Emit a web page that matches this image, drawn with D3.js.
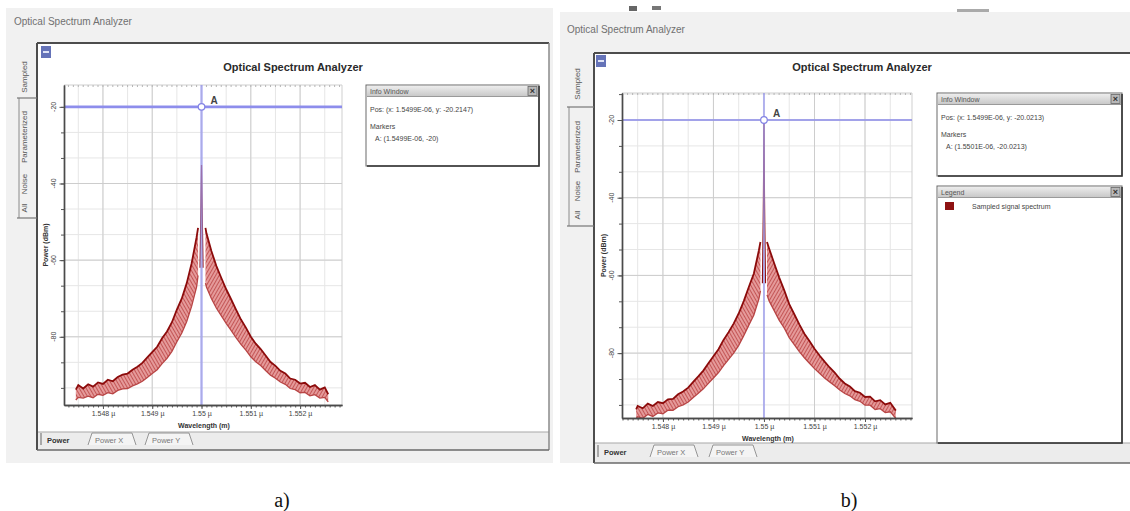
<!DOCTYPE html>
<html><head><meta charset="utf-8">
<script src="https://cdn.jsdelivr.net/npm/d3@7/dist/d3.min.js"></script>
<style>
html,body{margin:0;padding:0;background:#fff;}
svg{display:block;font-family:"Liberation Sans",Arial,sans-serif;}
</style></head>
<body>
<svg id="chart" width="1130" height="511"></svg>
<script>
// ---------------- DATA ----------------
const xTickValues = [1.548, 1.549, 1.55, 1.551, 1.552];
const xTickLabels = ["1.548 µ", "1.549 µ", "1.55 µ", "1.551 µ", "1.552 µ"];
const yTickValues = [-20, -40, -60, -80];
const yTickLabels = ["-20", "-40", "-60", "-80"];
const sideTabs = ["Sampled", "Parameterized", "Noise", "All"];
const bottomTabs = ["Power", "Power X", "Power Y"];

// panel a) – spectrum envelopes (wavelength in µm, power in dBm)
const wlLeftA = [1.54745,1.5475,1.5476,1.5477,1.5478,1.5479,1.548,1.5481,1.5482,1.5483,1.5484,1.5485,1.5486,1.5487,1.5488,1.5489,1.549,1.5491,1.5492,1.5493,1.5494,1.5495,1.5496,1.5497,1.5498,1.5499,1.54993];
const upperLeftA = [-93.8,-92.6,-93.5,-92.4,-93.0,-91.9,-92.3,-91.2,-91.6,-90.5,-89.9,-89.6,-88.6,-87.8,-86.8,-85.4,-84.0,-82.6,-80.4,-78.6,-76.2,-72.9,-70.0,-66.0,-60.8,-54.0,-51.6];
const lowerLeftA = [-96.5,-95.8,-96.0,-95.5,-95.9,-95.0,-95.3,-94.6,-94.9,-94.0,-93.6,-93.5,-92.8,-92.3,-91.6,-90.6,-89.6,-88.6,-87.0,-85.6,-83.8,-81.3,-79.0,-76.0,-72.0,-67.0,-64.0];
const wlRightA = [1.55008,1.5501,1.5502,1.5503,1.5504,1.5505,1.5506,1.5507,1.5508,1.5509,1.551,1.5511,1.5512,1.5513,1.5514,1.5515,1.5516,1.5517,1.5518,1.5519,1.552,1.5521,1.5522,1.5523,1.5524,1.5525,1.55257];
const upperRightA = [-51.6,-53.0,-57.6,-61.5,-64.6,-67.6,-70.2,-72.9,-75.5,-77.6,-80.0,-81.8,-83.2,-84.9,-86.6,-87.6,-88.9,-89.6,-90.9,-91.2,-92.2,-92.0,-93.1,-92.6,-93.8,-93.2,-95.0];
const lowerRightA = [-66.0,-67.0,-70.0,-72.5,-74.5,-76.5,-78.3,-80.2,-82.0,-83.5,-85.2,-86.5,-87.5,-88.8,-90.0,-90.8,-91.8,-92.4,-93.5,-93.8,-94.6,-94.5,-95.4,-95.1,-96.0,-95.8,-97.0];
const spikeWlA = [1.54997,1.54999,1.55,1.55001,1.55003];
const spikeA = [-62,-44,-35.2,-44,-62];
const markerA = [1.55, -20];
const infoA = ["Pos:  (x: 1.5499E-06, y: -20.2147)", "Markers", "A: (1.5499E-06, -20)"];

// panel b)
const wlLeftB = [1.54747,1.5475,1.5476,1.5477,1.5478,1.5479,1.548,1.5481,1.5482,1.5483,1.5484,1.5485,1.5486,1.5487,1.5488,1.5489,1.549,1.5491,1.5492,1.5493,1.5494,1.5495,1.5496,1.5497,1.5498,1.5499,1.54993];
const upperLeftB = [-94.5,-93.6,-94.2,-93.0,-93.6,-92.6,-92.9,-91.9,-91.8,-90.6,-89.9,-88.9,-87.4,-86.0,-84.5,-82.6,-80.8,-79.0,-76.6,-74.6,-72.4,-69.8,-66.6,-63.0,-59.5,-53.5,-51.4];
const lowerLeftB = [-97.0,-96.4,-96.8,-95.8,-96.3,-95.4,-95.6,-94.7,-94.7,-93.8,-93.3,-92.6,-91.4,-90.3,-89.2,-87.8,-86.4,-85.0,-83.2,-81.6,-80.0,-78.0,-75.5,-72.8,-70.2,-66.0,-64.0];
const wlRightB = [1.55006,1.5501,1.5502,1.5503,1.5504,1.5505,1.5506,1.5507,1.5508,1.5509,1.551,1.5511,1.5512,1.5513,1.5514,1.5515,1.5516,1.5517,1.5518,1.5519,1.552,1.5521,1.5522,1.5523,1.5524,1.5525,1.55261];
const upperRightB = [-51.4,-53.0,-56.8,-60.5,-63.8,-67.4,-70.0,-72.6,-75.0,-76.9,-78.9,-80.6,-82.2,-83.7,-85.0,-86.6,-87.8,-88.6,-89.8,-90.2,-91.3,-91.2,-92.4,-92.1,-93.2,-92.8,-94.8];
const lowerRightB = [-65.0,-66.5,-69.0,-71.5,-73.5,-76.0,-77.8,-79.6,-81.2,-82.6,-84.0,-85.2,-86.4,-87.4,-88.4,-89.5,-90.4,-91.0,-92.0,-92.4,-93.4,-93.4,-94.5,-94.3,-95.3,-95.1,-96.8];
const spikeWlB = [1.54997,1.549985,1.54999,1.55,1.55001,1.550015,1.55003];
const spikeB = [-62,-46,-40,-20.3,-40,-46,-62];
const markerB = [1.55, -20];
const infoB = ["Pos:  (x: 1.5499E-06, y: -20.0213)", "Markers", "A: (1.5501E-06, -20.0213)"];
const legendB = ["Sampled signal spectrum"];

// ---------------- DRAWING ----------------
const svg = d3.select("#chart");
const defs = svg.append("defs");
function makeHatch(id, angle) {
  const p = defs.append("pattern").attr("id", id).attr("patternUnits", "userSpaceOnUse")
    .attr("width", 3).attr("height", 3).attr("patternTransform", `rotate(${angle})`);
  p.append("rect").attr("width", 3).attr("height", 3).attr("fill", "#e59a9a");
  p.append("line").attr("x1", 0.5).attr("y1", 0).attr("x2", 0.5).attr("y2", 3)
    .attr("stroke", "#b53c3c").attr("stroke-width", 0.9).attr("stroke-opacity", 0.8);
}
makeHatch("hatchL", -30);
makeHatch("hatchR", 30);
const grad = defs.append("linearGradient").attr("id", "tbar").attr("x1", 0).attr("x2", 0).attr("y1", 0).attr("y2", 1);
grad.append("stop").attr("offset", "0%").attr("stop-color", "#ececec");
grad.append("stop").attr("offset", "100%").attr("stop-color", "#c9c9c9");

function boxWithTitle(g, b, title) {
  g.append("rect").attr("x", b.x).attr("y", b.y).attr("width", b.w).attr("height", b.h)
    .attr("fill", "#fff").attr("stroke", "#6a6a6a").attr("stroke-width", 1);
  g.append("rect").attr("x", b.x + 1).attr("y", b.y + 1).attr("width", b.w - 2).attr("height", 10)
    .attr("fill", "url(#tbar)");
  g.append("line").attr("x1", b.x + 1).attr("x2", b.x + b.w - 1).attr("y1", b.y + 11.5).attr("y2", b.y + 11.5)
    .attr("stroke", "#9a9a9a");
  g.append("text").attr("x", b.x + 4).attr("y", b.y + 9).attr("font-size", 7).attr("fill", "#555").text(title);
  g.append("rect").attr("x", b.x + b.w - 11).attr("y", b.y + 1.5).attr("width", 9).attr("height", 9)
    .attr("fill", "#b8b8b8").attr("stroke", "#666").attr("stroke-width", 0.8);
  g.append("text").attr("x", b.x + b.w - 6.5).attr("y", b.y + 9.3).attr("text-anchor", "middle")
    .attr("font-size", 9).attr("font-weight", "bold").attr("fill", "#333").text("×");
  g.append("path").attr("d", `M${b.x + 1},${b.y + b.h}H${b.x + b.w}V${b.y + 1}`)
    .attr("fill", "none").attr("stroke", "#333").attr("stroke-width", 1.6);
}

function drawPanel(cfg) {
  const g = svg.append("g");
  const f = cfg.frame;
  g.append("rect").attr("x", cfg.bg[0]).attr("y", cfg.bg[1]).attr("width", cfg.bg[2]).attr("height", cfg.bg[3]).attr("fill", "#f1f1f1");
  g.append("text").attr("x", cfg.winTitle[0]).attr("y", cfg.winTitle[1]).attr("font-size", 10)
    .attr("fill", "#707070").text("Optical Spectrum Analyzer");
  g.append("rect").attr("x", f.x).attr("y", f.y).attr("width", f.x2 - f.x).attr("height", f.y2 - f.y).attr("fill", "#fff");
  g.append("rect").attr("x", f.x).attr("y", f.whiteBottom).attr("width", f.x2 - f.x).attr("height", f.y2 - f.whiteBottom).attr("fill", "#ececec");
  g.append("line").attr("x1", f.x).attr("x2", f.x2).attr("y1", f.whiteBottom).attr("y2", f.whiteBottom).attr("stroke", "#a8a8a8").attr("stroke-width", 1.2);
  g.append("line").attr("x1", f.x).attr("x2", f.x2).attr("y1", f.y).attr("y2", f.y).attr("stroke", "#4d4d4d").attr("stroke-width", 2);
  g.append("line").attr("x1", f.x).attr("x2", f.x).attr("y1", f.y).attr("y2", f.y2).attr("stroke", "#4d4d4d").attr("stroke-width", 2);
  if (f.rightBorder) g.append("line").attr("x1", f.x2).attr("x2", f.x2).attr("y1", f.y).attr("y2", f.y2).attr("stroke", "#8a8a8a").attr("stroke-width", 1.5);
  g.append("line").attr("x1", f.x).attr("x2", f.x2).attr("y1", f.y2).attr("y2", f.y2).attr("stroke", "#6a6a6a").attr("stroke-width", 1.5);
  g.append("rect").attr("x", cfg.icon[0]).attr("y", cfg.icon[1]).attr("width", 10).attr("height", 12).attr("fill", "#6573b8");
  g.append("rect").attr("x", cfg.icon[0] + 2).attr("y", cfg.icon[1] + 5).attr("width", 6).attr("height", 2).attr("fill", "#dfe3f5");
  const st = cfg.side;
  g.append("line").attr("x1", st.lineX).attr("x2", st.lineX).attr("y1", st.seps[0]).attr("y2", st.seps[1]).attr("stroke", "#8a8a8a");
  st.seps.forEach(sy => g.append("line").attr("x1", st.lineX - 2).attr("x2", f.x).attr("y1", sy).attr("y2", sy).attr("stroke", "#777").attr("stroke-width", 1.2));
  sideTabs.forEach((t, i) => g.append("text").attr("transform", `translate(${st.x},${st.ys[i]}) rotate(-90)`)
    .attr("text-anchor", "middle").attr("font-size", 8).attr("fill", "#555").text(t));
  const bt = cfg.btabs;
  g.append("line").attr("x1", f.x + 4).attr("x2", f.x + 4).attr("y1", bt.y - 7).attr("y2", bt.y + 5).attr("stroke", "#666");
  bottomTabs.forEach((t, i) => {
    const tx = bt.xs[i];
    if (i > 0) {
      const w = bt.ws[i];
      g.append("path").attr("d", `M${tx - 7},${bt.y + 5}L${tx - 3},${bt.y - 7}H${tx + w + 3}L${tx + w + 7},${bt.y + 5}`)
        .attr("fill", "#f4f4f4").attr("stroke", "#8a8a8a").attr("stroke-width", 0.9);
    }
    g.append("text").attr("x", tx).attr("y", bt.y + 2.5).attr("font-size", 7.5)
      .attr("font-weight", i === 0 ? "bold" : "normal").attr("fill", i === 0 ? "#333" : "#777").text(t);
  });
  g.append("text").attr("x", cfg.title[0]).attr("y", cfg.title[1]).attr("text-anchor", "middle")
    .attr("font-size", 11).attr("font-weight", "bold").attr("fill", "#2a2a2a").text("Optical Spectrum Analyzer");

  // ---------- plot ----------
  const p = cfg.plot;
  const x = d3.scaleLinear().domain(cfg.xDomain).range([p.x0, p.x1]);
  const y = d3.scaleLinear().domain(cfg.yDomain).range([p.y1, p.y0]);
  const clipId = "clip" + cfg.id;
  defs.append("clipPath").attr("id", clipId).append("rect").attr("x", p.x0).attr("y", p.y0).attr("width", p.x1 - p.x0).attr("height", p.y1 - p.y0);

  const inX = v => v >= cfg.xDomain[0] && v <= cfg.xDomain[1];
  const inY = v => v >= cfg.yDomain[0] && v <= cfg.yDomain[1];
  const xMinor = d3.range(1.5470, 1.5531, 0.0005).filter(inX);
  const xFine = d3.range(1.5472, 1.5530, 0.0001).filter(inX);
  const yMinor = d3.range(-8, 14).map(k => -20 - k * 20 / 3).filter(inY);
  const grid = g.append("g");
  xMinor.forEach(v => grid.append("line").attr("x1", x(v)).attr("x2", x(v)).attr("y1", p.y0).attr("y2", p.y1).attr("stroke", "#e6e6e6").attr("stroke-width", 1));
  yMinor.forEach(v => grid.append("line").attr("x1", p.x0).attr("x2", p.x1).attr("y1", y(v)).attr("y2", y(v)).attr("stroke", "#e6e6e6").attr("stroke-width", 1));
  xTickValues.forEach(v => grid.append("line").attr("x1", x(v)).attr("x2", x(v)).attr("y1", p.y0).attr("y2", p.y1).attr("stroke", "#cdcdcd").attr("stroke-width", 1));
  yTickValues.forEach(v => grid.append("line").attr("x1", p.x0).attr("x2", p.x1).attr("y1", y(v)).attr("y2", y(v)).attr("stroke", "#cdcdcd").attr("stroke-width", 1));
  g.append("line").attr("x1", p.x0).attr("x2", p.x1).attr("y1", p.y0).attr("y2", p.y0).attr("stroke", "#cfcfcf");
  g.append("line").attr("x1", p.x1).attr("x2", p.x1).attr("y1", p.y0).attr("y2", p.y1).attr("stroke", "#cfcfcf");
  xFine.forEach(v => g.append("line").attr("x1", x(v)).attr("x2", x(v)).attr("y1", p.y0).attr("y2", p.y0 + 2).attr("stroke", "#b5b5b5"));

  // spectrum
  const plotG = g.append("g").attr("clip-path", `url(#${clipId})`);
  const area = d3.area().x(d => x(d.w)).y0(d => y(d.lo)).y1(d => y(d.hi));
  const lineHi = d3.line().x(d => x(d.w)).y(d => y(d.hi));
  const lineLo = d3.line().x(d => x(d.w)).y(d => y(d.lo));
  [[cfg.left, "hatchL"], [cfg.right, "hatchR"]].forEach(([s, pat]) => {
    const data = s.wl.map((w, i) => ({ w, hi: s.hi[i], lo: s.lo[i] }));
    plotG.append("path").datum(data).attr("d", area).attr("fill", `url(#${pat})`);
    plotG.append("path").datum(data).attr("d", lineLo).attr("fill", "none").attr("stroke", "#b84545").attr("stroke-width", 1.3);
    plotG.append("path").datum(data).attr("d", lineHi).attr("fill", "none").attr("stroke", "#8c0b0b").attr("stroke-width", 1.8);
  });
  const sp = cfg.spike.wl.map((w, i) => ({ w, v: cfg.spike.v[i] }));
  plotG.append("path").datum(sp).attr("d", d3.line().x(d => x(d.w)).y(d => y(d.v)))
    .attr("fill", "none").attr("stroke", "#8f0d0d").attr("stroke-width", 1.2);

  // marker lines
  const mx = x(cfg.marker[0]), my = y(cfg.marker[1]);
  plotG.append("line").attr("x1", mx).attr("x2", mx).attr("y1", p.y0).attr("y2", p.y1)
    .attr("stroke", "#9d9df2").attr("stroke-opacity", 0.7).attr("stroke-width", cfg.mv);
  plotG.append("line").attr("x1", p.x0).attr("x2", p.x1).attr("y1", my).attr("y2", my)
    .attr("stroke", "#8989ec").attr("stroke-opacity", 0.95).attr("stroke-width", cfg.mh);
  g.append("circle").attr("cx", mx).attr("cy", my).attr("r", 3.3).attr("fill", "#fff").attr("stroke", "#8282e4").attr("stroke-width", 1.2);
  g.append("text").attr("x", mx + 9).attr("y", my - 3).attr("font-size", 10).attr("font-weight", "bold").attr("fill", "#444").text("A");

  // axes
  const xAxisMinor = d3.axisBottom(x).tickValues(xFine).tickSize(2.5).tickSizeOuter(0).tickFormat("");
  const xAxisMajor = d3.axisBottom(x).tickValues(xTickValues).tickSize(4).tickSizeOuter(0).tickFormat((d, i) => xTickLabels[i]);
  const gxm = g.append("g").attr("transform", `translate(0,${p.y1})`).call(xAxisMinor);
  const gx = g.append("g").attr("transform", `translate(0,${p.y1})`).call(xAxisMajor);
  [gxm, gx].forEach(a => { a.select(".domain").attr("stroke", "#4a4a4a").attr("stroke-width", 1.4); a.selectAll(".tick line").attr("stroke", "#555"); });
  gx.selectAll(".tick text").attr("font-size", 7).attr("fill", "#444").attr("font-family", "Liberation Sans, Arial").attr("y", 6.5);
  g.append("text").attr("x", (p.x0 + p.x1) / 2 + 1).attr("y", p.y1 + 23).attr("text-anchor", "middle")
    .attr("font-size", 7).attr("font-weight", "bold").attr("fill", "#333").text("Wavelength (m)");

  const yAxisMinor = d3.axisLeft(y).tickValues(yMinor).tickSize(3).tickSizeOuter(0).tickFormat("");
  const yAxisMajor = d3.axisLeft(y).tickValues(yTickValues).tickSize(4.5).tickSizeOuter(0).tickFormat("");
  const gym = g.append("g").attr("transform", `translate(${p.x0},0)`).call(yAxisMinor);
  const gy = g.append("g").attr("transform", `translate(${p.x0},0)`).call(yAxisMajor);
  [gym, gy].forEach(a => { a.select(".domain").attr("stroke", "#4a4a4a").attr("stroke-width", 1.4); a.selectAll(".tick line").attr("stroke", "#555"); });
  yTickValues.forEach((v, i) => g.append("text").attr("transform", `translate(${p.x0 - 8},${y(v)}) rotate(-90)`)
    .attr("text-anchor", "middle").attr("font-size", 7).attr("fill", "#444").text(yTickLabels[i]));
  g.append("text").attr("transform", `translate(${p.x0 - 16},${(p.y0 + p.y1) / 2}) rotate(-90)`)
    .attr("text-anchor", "middle").attr("font-size", 7).attr("font-weight", "bold").attr("fill", "#333").text("Power (dBm)");

  boxWithTitle(g, cfg.info, "Info Window");
  const ib = cfg.info;
  g.append("text").attr("x", ib.x + 4).attr("y", ib.y + 27).attr("font-size", 7).attr("fill", "#444").text(cfg.infoText[0]);
  g.append("text").attr("x", ib.x + 4).attr("y", ib.y + 44).attr("font-size", 7).attr("fill", "#444").text(cfg.infoText[1]);
  g.append("text").attr("x", ib.x + 9).attr("y", ib.y + 56).attr("font-size", 7).attr("fill", "#444").text(cfg.infoText[2]);

  if (cfg.legend) {
    const lb = cfg.legend;
    boxWithTitle(g, lb, "Legend");
    g.append("rect").attr("x", lb.x + 8).attr("y", lb.y + 16).attr("width", 9).attr("height", 8).attr("fill", "#8e1212");
    g.append("text").attr("x", lb.x + 35).attr("y", lb.y + 23).attr("font-size", 7).attr("fill", "#444").text(legendB[0]);
  }

  g.append("text").attr("x", cfg.label[1]).attr("y", 507).attr("text-anchor", "middle")
    .attr("font-family", "Liberation Serif, Times New Roman, serif").attr("font-size", 20).attr("fill", "#111").text(cfg.label[0]);
}

drawPanel({
  id: "A", bg: [6, 8, 547, 455], winTitle: [14, 25],
  frame: { x: 37, y: 43, x2: 549, y2: 450, whiteBottom: 432, rightBorder: true },
  icon: [41, 46],
  side: { x: 27, ys: [77, 137, 184, 208], seps: [98, 218], lineX: 19 },
  btabs: { y: 440, xs: [47, 95, 152], ws: [28, 34, 34] },
  title: [293, 71],
  plot: { x0: 64, x1: 342, y0: 85, y1: 405 },
  xDomain: [1.54721, 1.55285], yDomain: [-97.8, -14.3],
  left: { wl: wlLeftA, hi: upperLeftA, lo: lowerLeftA },
  right: { wl: wlRightA, hi: upperRightA, lo: lowerRightA },
  spike: { wl: spikeWlA, v: spikeA },
  marker: markerA, mh: 2.6, mv: 2.6,
  info: { x: 366, y: 85, w: 173, h: 81 }, infoText: infoA,
  label: ["a)", 282]
});

drawPanel({
  id: "B", bg: [560, 12, 570, 451], winTitle: [567, 33],
  frame: { x: 594, y: 53, x2: 1131, y2: 463, whiteBottom: 443, rightBorder: false },
  icon: [596, 55],
  side: { x: 580, ys: [84, 147, 191, 215], seps: [107, 226], lineX: 569 },
  btabs: { y: 452, xs: [604, 657, 716], ws: [28, 34, 34] },
  title: [862, 71],
  plot: { x0: 622, x1: 912, y0: 93, y1: 418 },
  xDomain: [1.54719, 1.55293], yDomain: [-96.7, -13.05],
  left: { wl: wlLeftB, hi: upperLeftB, lo: lowerLeftB },
  right: { wl: wlRightB, hi: upperRightB, lo: lowerRightB },
  spike: { wl: spikeWlB, v: spikeB },
  marker: markerB, mh: 1.6, mv: 2,
  info: { x: 937, y: 93, w: 185, h: 83 }, infoText: infoB,
  legend: { x: 937, y: 186, w: 185, h: 257 },
  label: ["b)", 849]
});

// clipped fragments of text above panel b)
svg.append("rect").attr("x", 629).attr("y", 6).attr("width", 8).attr("height", 5).attr("fill", "#666");
svg.append("rect").attr("x", 652).attr("y", 6).attr("width", 9).attr("height", 4).attr("fill", "#777");
svg.append("rect").attr("x", 957).attr("y", 9).attr("width", 32).attr("height", 3).attr("fill", "#aaa");
</script>
</body></html>
